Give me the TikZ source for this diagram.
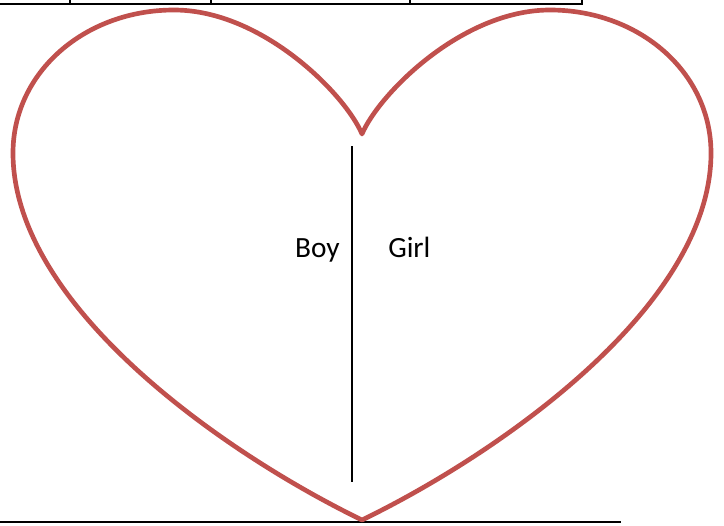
\documentclass[tikz,border=0pt]{standalone}
\usepackage{fontspec}
\setmainfont{Carlito}
\definecolor{heartred}{RGB}{192,80,77}
\begin{document}
\begin{tikzpicture}[x=0.75pt,y=-0.75pt,
  heartline/.style={draw=heartred,line width=3.5pt,line join=round},
  rule/.style={draw=black,line width=1.5pt},
  divider/.style={draw=black,line width=1.3pt},
  lbl/.style={font=\fontsize{22}{26}\selectfont,inner sep=0pt}]
\useasboundingbox (0,0) rectangle (724,525);
% top table remnant
\draw[rule] (0,4) -- (583,4);
\foreach \x in {70,211,410,582} \draw[rule] (\x,0) -- (\x,4);
% bottom line
\draw[rule] (0,522) -- (621,522);
% heart
\coordinate (tip) at (362,520);
\coordinate (notch) at (362,134);
\draw[heartline] (tip)
  .. controls (222,452) and (13,305) .. (13,153)
  .. controls (13,72) and (85,10) .. (174,10)
  .. controls (262,10) and (345,94) .. (notch)
  .. controls (379,94) and (462,10) .. (550,10)
  .. controls (639,10) and (711,72) .. (711,153)
  .. controls (711,305) and (502,452) .. (tip) -- cycle;
% divider
\coordinate (dtop) at (352,146);
\coordinate (dbot) at (352,482);
\draw[divider] (dtop) -- (dbot);
\node[lbl,anchor=base east] (boy) at (340,257) {Boy};
\node[lbl,anchor=base west] (girl) at (388,257) {Girl};
\end{tikzpicture}
\end{document}
